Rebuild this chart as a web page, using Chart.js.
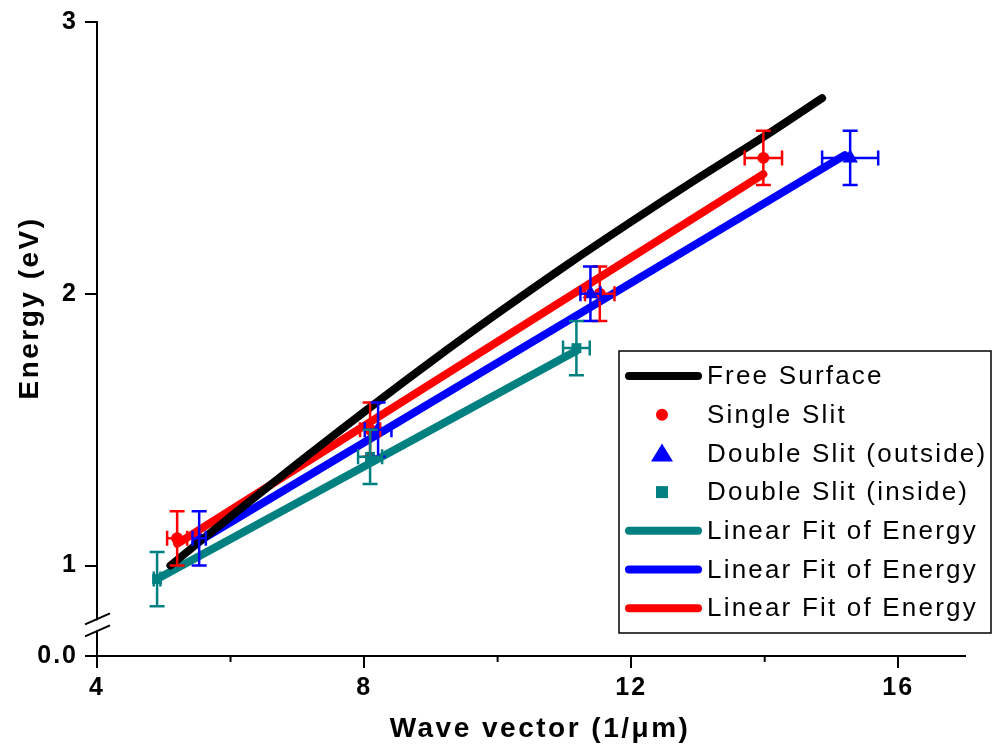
<!DOCTYPE html>
<html>
<head>
<meta charset="utf-8">
<script src="https://cdn.jsdelivr.net/npm/chart.js@4.4.1/dist/chart.umd.min.js"></script>
<style>
  html, body { margin: 0; padding: 0; background: #fff; }
  #wrap { width: 992px; height: 749px; }
</style>
</head>
<body>
<div id="wrap"><canvas id="chart" width="992" height="749"></canvas></div>
<script>
// --- data ---
const freeK = [5.1, 6, 7, 8, 9, 10, 11, 12, 13, 14, 14.86];
const freeE = [1.0, 1.18, 1.375, 1.565, 1.75, 1.928, 2.1, 2.265, 2.425, 2.58, 2.72];

const singleK = [5.2, 8.09, 11.53, 13.98];
const singleE = [1.1, 1.5, 2.0, 2.5];
const singleKErr = [0.15, 0.15, 0.22, 0.28];
const singleEErr = [0.1, 0.1, 0.1, 0.1];

const outK = [5.53, 8.21, 11.39, 15.28];
const outE = [1.1, 1.5, 2.0, 2.5];
const outKErr = [0.1, 0.2, 0.15, 0.42];
const outEErr = [0.1, 0.1, 0.1, 0.1];

const inK = [4.9, 8.09, 11.18];
const inE = [0.95, 1.4, 1.8];
const inKErr = [0.05, 0.18, 0.2];
const inEErr = [0.1, 0.1, 0.1];

const fitInK = [4.9, 11.18];
const fitInE = [0.95, 1.79];
const fitOutK = [5.53, 15.2];
const fitOutE = [1.09, 2.51];
const fitSingleK = [5.2, 13.98];
const fitSingleE = [1.08, 2.44];

const xTicks = [4, 8, 12, 16];
const xMinorTicks = [6, 10, 14];
const yTicks = [1, 2, 3];
const yBottom = 0.667;   // value sitting on the x axis, labelled 0.0 (broken axis)
const yBreak = 0.78;

const RED = '#ff0000', BLUE = '#0000ff', TEAL = '#008080', BLACK = '#000000';

const pts = (k, e) => k.map((v, i) => ({ x: v, y: e[i] }));

const errorSets = [
    { k: singleK, e: singleE, kErr: singleKErr, eErr: singleEErr, color: RED },
    { k: outK, e: outE, kErr: outKErr, eErr: outEErr, color: BLUE },
    { k: inK, e: inE, kErr: inKErr, eErr: inEErr, color: TEAL }
];

const legendItems = [
    { label: 'Free Surface', type: 'line', color: BLACK },
    { label: 'Single Slit', type: 'circle', color: RED },
    { label: 'Double Slit (outside)', type: 'triangle', color: BLUE },
    { label: 'Double Slit (inside)', type: 'rect', color: TEAL },
    { label: 'Linear Fit of Energy', type: 'line', color: TEAL },
    { label: 'Linear Fit of Energy', type: 'line', color: BLUE },
    { label: 'Linear Fit of Energy', type: 'line', color: RED }
];

const lineDs = (label, k, e, color, w) => ({
    label: label,
    data: pts(k, e),
    showLine: true,
    borderColor: color,
    backgroundColor: color,
    borderWidth: w,
    borderCapStyle: 'round',
    pointRadius: 0,
    tension: 0.3
});

const pointDs = (label, k, e, color, style, r) => ({
    label: label,
    data: pts(k, e),
    showLine: false,
    pointStyle: style,
    pointRadius: r,
    borderWidth: 0,
    backgroundColor: color,
    borderColor: color
});

// error bars, minor ticks, axis break, legend and titles
const overlay = {
    id: 'overlay',
    beforeDraw(chart) {
        // wider tick label spacing, like the original
        chart.ctx.letterSpacing = '2px';
    },
    afterDatasetsDraw(chart) {
        const { ctx, scales: { x, y } } = chart;
        ctx.save();
        ctx.lineWidth = 2.5;
        errorSets.forEach(s => {
            ctx.strokeStyle = s.color;
            s.k.forEach((k, i) => {
                const px = x.getPixelForValue(k);
                const py = y.getPixelForValue(s.e[i]);
                const y1 = y.getPixelForValue(s.e[i] - s.eErr[i]);
                const y2 = y.getPixelForValue(s.e[i] + s.eErr[i]);
                const x1 = x.getPixelForValue(k - s.kErr[i]);
                const x2 = x.getPixelForValue(k + s.kErr[i]);
                ctx.beginPath();
                ctx.moveTo(px, y1); ctx.lineTo(px, y2);
                ctx.moveTo(px - 7.5, y1); ctx.lineTo(px + 7.5, y1);
                ctx.moveTo(px - 7.5, y2); ctx.lineTo(px + 7.5, y2);
                ctx.moveTo(x1, py); ctx.lineTo(x2, py);
                ctx.moveTo(x1, py - 7.5); ctx.lineTo(x1, py + 7.5);
                ctx.moveTo(x2, py - 7.5); ctx.lineTo(x2, py + 7.5);
                ctx.stroke();
            });
        });
        ctx.restore();
    },
    afterDraw(chart) {
        const { ctx, scales: { x, y } } = chart;
        ctx.save();
        // minor ticks on x
        ctx.strokeStyle = BLACK;
        ctx.lineWidth = 2;
        const axisY = y.getPixelForValue(yBottom);
        xMinorTicks.forEach(v => {
            const px = x.getPixelForValue(v);
            ctx.beginPath();
            ctx.moveTo(px, axisY);
            ctx.lineTo(px, axisY + 6);
            ctx.stroke();
        });
        // axis break
        const bx = x.getPixelForValue(4);
        const by = y.getPixelForValue(yBreak);
        ctx.fillStyle = '#fff';
        ctx.fillRect(bx - 3, by - 5, 6, 10);
        ctx.beginPath();
        ctx.moveTo(bx - 12, by - 1); ctx.lineTo(bx + 13, by - 12);
        ctx.moveTo(bx - 12, by + 11); ctx.lineTo(bx + 13, by);
        ctx.stroke();

        // legend box
        const lx = 619, ly = 351, lw = 372, lh = 282;
        ctx.fillStyle = '#fff';
        ctx.fillRect(lx, ly, lw, lh);
        ctx.strokeStyle = BLACK;
        ctx.lineWidth = 1.5;
        ctx.strokeRect(lx, ly, lw, lh);
        ctx.font = '26px "Liberation Sans", Arial, sans-serif';
        ctx.letterSpacing = '2.2px';
        ctx.textBaseline = 'middle';
        ctx.textAlign = 'left';
        legendItems.forEach((it, i) => {
            const ry = 376 + i * 38.7;
            ctx.fillStyle = it.color;
            ctx.strokeStyle = it.color;
            if (it.type === 'line') {
                ctx.lineWidth = 8;
                ctx.lineCap = 'round';
                ctx.beginPath();
                ctx.moveTo(629, ry); ctx.lineTo(698, ry);
                ctx.stroke();
            } else if (it.type === 'circle') {
                ctx.beginPath();
                ctx.arc(662, ry, 6, 0, Math.PI * 2);
                ctx.fill();
            } else if (it.type === 'triangle') {
                ctx.beginPath();
                ctx.moveTo(662, ry - 10); ctx.lineTo(673, ry + 8); ctx.lineTo(651, ry + 8);
                ctx.closePath();
                ctx.fill();
            } else {
                ctx.fillRect(656, ry - 6, 12, 12);
            }
            ctx.fillStyle = BLACK;
            ctx.fillText(it.label, 707, ry + 1);
        });

        // axis titles
        ctx.fillStyle = BLACK;
        ctx.font = 'bold 28px "Liberation Sans", Arial, sans-serif';
        ctx.letterSpacing = '2.5px';
        ctx.textAlign = 'center';
        ctx.textBaseline = 'middle';
        ctx.fillText('Wave vector (1/\u03bcm)', 540, 729);
        ctx.translate(30, 308);
        ctx.rotate(-Math.PI / 2);
        ctx.fillText('Energy (eV)', 0, 0);
        ctx.restore();
    }
};

const tickFont = { family: '"Liberation Sans", Arial, sans-serif', size: 25, weight: 'bold' };

new Chart(document.getElementById('chart'), {
    type: 'scatter',
    data: {
        datasets: [
            lineDs('Free Surface', freeK, freeE, BLACK, 8),
            lineDs('Linear Fit of Energy', fitInK, fitInE, TEAL, 8),
            lineDs('Linear Fit of Energy', fitOutK, fitOutE, BLUE, 8),
            lineDs('Linear Fit of Energy', fitSingleK, fitSingleE, RED, 8),
            pointDs('Double Slit (inside)', inK, inE, TEAL, 'rect', 7),
            pointDs('Double Slit (outside)', outK, outE, BLUE, 'triangle', 9),
            pointDs('Single Slit', singleK, singleE, RED, 'circle', 6)
        ]
    },
    options: {
        responsive: false,
        animation: false,
        devicePixelRatio: 1,
        layout: { padding: { top: 18, right: 27, left: 0, bottom: 0 } },
        plugins: { legend: { display: false }, tooltip: { enabled: false } },
        scales: {
            x: {
                type: 'linear',
                min: 4,
                max: 17,
                afterBuildTicks: s => { s.ticks = xTicks.map(v => ({ value: v })); },
                afterFit: s => { s.height = 93; },
                ticks: { color: BLACK, font: tickFont, padding: 5, maxRotation: 0 },
                grid: { display: true, drawOnChartArea: false, drawTicks: true, tickLength: 12, color: BLACK, lineWidth: 2 },
                border: { display: true, color: BLACK, width: 2 }
            },
            y: {
                type: 'linear',
                min: yBottom,
                max: 3,
                afterBuildTicks: s => { s.ticks = [yBottom].concat(yTicks).map(v => ({ value: v })); },
                afterFit: s => { s.width = 97; },
                ticks: {
                    color: BLACK,
                    font: tickFont,
                    padding: 7,
                    callback: v => (v < 0.9 ? '0.0' : String(v))
                },
                grid: { display: true, drawOnChartArea: false, drawTicks: true, tickLength: 12, color: BLACK, lineWidth: 2 },
                border: { display: true, color: BLACK, width: 2 }
            }
        }
    },
    plugins: [overlay]
});
</script>
</body>
</html>
